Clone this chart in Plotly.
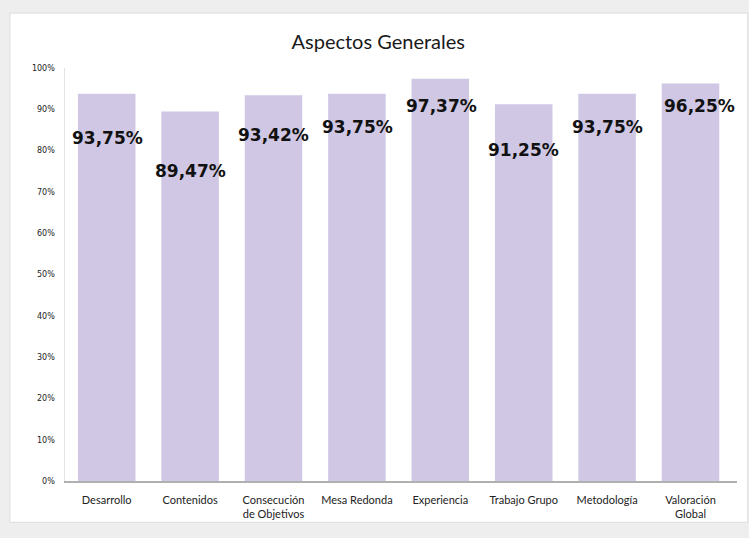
import plotly.graph_objects as go

categories = ["Desarrollo", "Contenidos", "Consecución de Objetivos", "Mesa Redonda",
              "Experiencia", "Trabajo Grupo", "Metodología", "Valoración Global"]
tick_labels = ["Desarrollo", "Contenidos", "Consecución<br>de Objetivos", "Mesa Redonda",
               "Experiencia", "Trabajo Grupo", "Metodología", "Valoración<br>Global"]
values = [93.75, 89.47, 93.42, 93.75, 97.37, 91.25, 93.75, 96.25]
y_ticks = [0, 10, 20, 30, 40, 50, 60, 70, 80, 90, 100]
y_tick_labels = ["0%", "10%", "20%", "30%", "40%", "50%", "60%", "70%", "80%", "90%", "100%"]

# label placement (style): how far below the bar top, and horizontal pixel shift
label_drop = [10.7, 14.4, 9.6, 8.05, 6.6, 11.15, 8.05, 5.45]
label_xshift = [1, 0, 0, 1, 1, 0, 0, 9]

fig = go.Figure()
fig.add_trace(go.Bar(
    x=categories, y=values,
    marker=dict(color="#cfc7e4", line=dict(width=0)),
    hoverinfo="skip",
))

annotations = []
for c, v, d, xs in zip(categories, values, label_drop, label_xshift):
    annotations.append(dict(
        x=c, y=v - d, xref="x", yref="y",
        text="<b>" + f"{v:.2f}".replace(".", ",") + "%</b>",
        showarrow=False, xshift=xs,
        font=dict(family="DejaVu Sans", size=17, color="#111111"),
        xanchor="center", yanchor="middle",
    ))

fig.update_layout(
    width=749, height=538,
    margin=dict(l=65, r=12, t=68, b=57),
    paper_bgcolor="#eeeeee",
    plot_bgcolor="#ffffff",
    bargap=0.31,
    showlegend=False,
    title=dict(text="Aspectos Generales", x=0.505, xanchor="center",
               y=1 - 42 / 538, yanchor="middle", yref="container",
               font=dict(family="Lato", size=20, color="#1a1a1a")),
    annotations=annotations,
    shapes=[dict(type="rect", xref="paper", yref="paper",
                 x0=-0.082, x1=1.016, y0=-0.1, y1=1.133,
                 fillcolor="#ffffff", line=dict(color="#dcdcdc", width=1),
                 layer="below")],
    xaxis=dict(
        tickmode="array", tickvals=categories, ticktext=tick_labels,
        showline=True, linecolor="#b0b0b0", linewidth=1.5,
        ticks="", showgrid=False, zeroline=False, ticklabelstandoff=8,
        tickfont=dict(family="Lato", size=11, color="#222222"),
    ),
    yaxis=dict(
        range=[0, 100], tickmode="array", tickvals=y_ticks,
        ticktext=[t + "&nbsp;&nbsp;&nbsp;" for t in y_tick_labels],
        showgrid=False, zeroline=False,
        showline=True, linecolor="#e4e4e4", linewidth=1,
        ticks="", ticklen=0,
        tickfont=dict(family="DejaVu Sans", size=8, color="#222222"),
    ),
)

fig.write_html("out.html", config={"displayModeBar": False},
               post_script="document.body.style.margin='0';document.body.style.overflow='hidden';")
